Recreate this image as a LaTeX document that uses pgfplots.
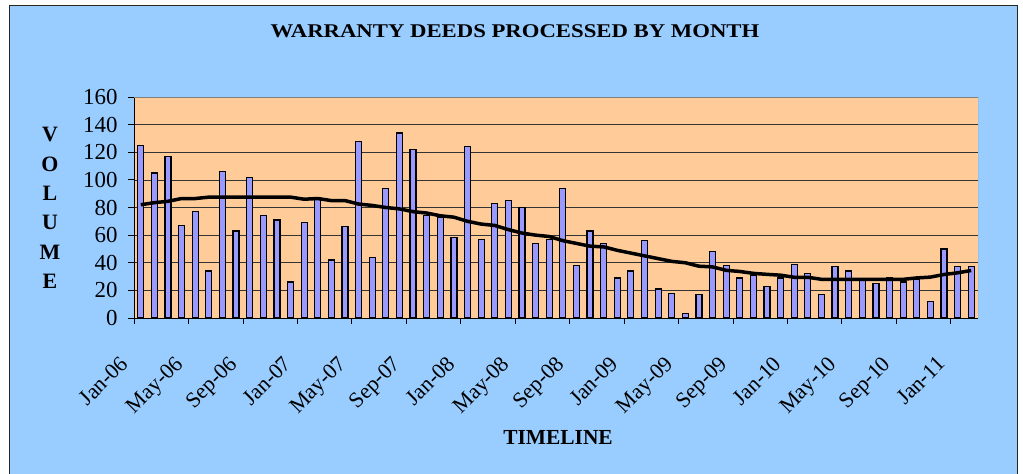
\documentclass[border=0pt]{standalone}
\usepackage{fontspec}
\setmainfont{Liberation Serif}
\usepackage{pgfplots}
\pgfplotsset{compat=1.18}
\definecolor{chartbg}{HTML}{99CCFF}
\definecolor{plotbg}{HTML}{FFCC99}
\definecolor{barfill}{HTML}{9999FF}

% monthly volume, Jan-06 (0) to Feb-11 (61)
\newcommand\volumes{
(0,125) (1,105) (2,117) (3,67) (4,77) (5,34) (6,106) (7,63) (8,102) (9,74)
(10,71) (11,26) (12,69) (13,87) (14,42) (15,66) (16,128) (17,44) (18,94) (19,134)
(20,122) (21,74) (22,73) (23,58) (24,124) (25,57) (26,83) (27,85) (28,80) (29,54)
(30,57) (31,94) (32,38) (33,63) (34,54) (35,29) (36,34) (37,56) (38,21) (39,18)
(40,3) (41,17) (42,48) (43,38) (44,29) (45,31) (46,23) (47,29) (48,39) (49,32)
(50,17) (51,37) (52,34) (53,27) (54,25) (55,29) (56,26) (57,28) (58,12) (59,50)
(60,37) (61,37)}
% trend line
\newcommand\trend{
(0,82) (1,83.5) (2,84.5) (3,86.5) (4,86.5) (5,87.5) (6,87.5) (7,87.5) (8,87.5) (9,87.5)
(10,87.5) (11,87.5) (12,86) (13,86.5) (14,85) (15,85) (16,82.5) (17,81.5) (18,80) (19,79)
(20,77) (21,76) (22,74) (23,73) (24,70) (25,68) (26,67) (27,64) (28,61.5) (29,60)
(30,59) (31,56) (32,54) (33,52) (34,51.5) (35,49) (36,47) (37,45) (38,43) (39,41)
(40,40) (41,37.5) (42,37) (43,34.5) (44,33.7) (45,32.3) (46,31.6) (47,31) (48,29.5) (49,29.5)
(50,28) (51,28) (52,28) (53,28) (54,28) (55,28) (56,28) (57,29) (58,29.6) (59,31.5)
(60,32.7) (61,34.4)}

\begin{document}
\begin{tikzpicture}
\useasboundingbox (0,0) rectangle (1023bp,-474bp);
\fill[white] (0,0) rectangle (1023bp,-474bp);
\draw[fill=chartbg, draw=black!85, line width=1bp] (9bp,-5bp) rectangle (1017bp,-490bp);
\node[font=\bfseries\fontsize{19.5}{20}\selectfont] at (515bp,-31bp) {\scalebox{1.17}[1]{WARRANTY DEEDS PROCESSED BY MONTH}};
\node[font=\bfseries\fontsize{22}{29.5}\selectfont, align=center] at (50bp,-208bp) {V\\O\\L\\U\\M\\E};
\node[font=\bfseries\fontsize{21.5}{22}\selectfont] at (558bp,-437bp) {TIMELINE};
\begin{axis}[
  at={(134bp,-318bp)}, anchor=south west,
  width=844bp, height=221bp, scale only axis,
  xmin=-0.5, xmax=61.5, ymin=0, ymax=160,
  axis x line*=bottom, axis y line*=left,
  axis line style={black, line width=0.8bp},
  axis background/.style={fill=plotbg},
  ytick={0,20,...,160},
  xtick={-0.5,3.5,...,59.5},
  xticklabels={Jan-06,May-06,Sep-06,Jan-07,May-07,Sep-07,Jan-08,May-08,Sep-08,Jan-09,May-09,Sep-09,Jan-10,May-10,Sep-10,Jan-11},
  tick align=outside, major tick length=6bp,
  tick style={black, line width=0.8bp},
  ymajorgrids, grid style={black!80, line width=0.7bp},
  /pgf/number format/assume math mode=true,
  yticklabel style={font=\fontsize{23}{23}\selectfont, xshift=-7bp},
  xticklabel style={font=\fontsize{22}{22}\selectfont, xshift=-15bp, yshift=-26bp, rotate=45, anchor=north east},
]
\addplot[ybar, bar width=6bp, fill=barfill, draw=black, line width=1.2bp] coordinates {\volumes};
\addplot[black, line width=3.5bp, mark=none] coordinates {\trend};
\draw[gray, line width=1bp] (rel axis cs:0,1) -- (rel axis cs:1,1) -- (rel axis cs:1,0);
\end{axis}
\end{tikzpicture}
\end{document}
